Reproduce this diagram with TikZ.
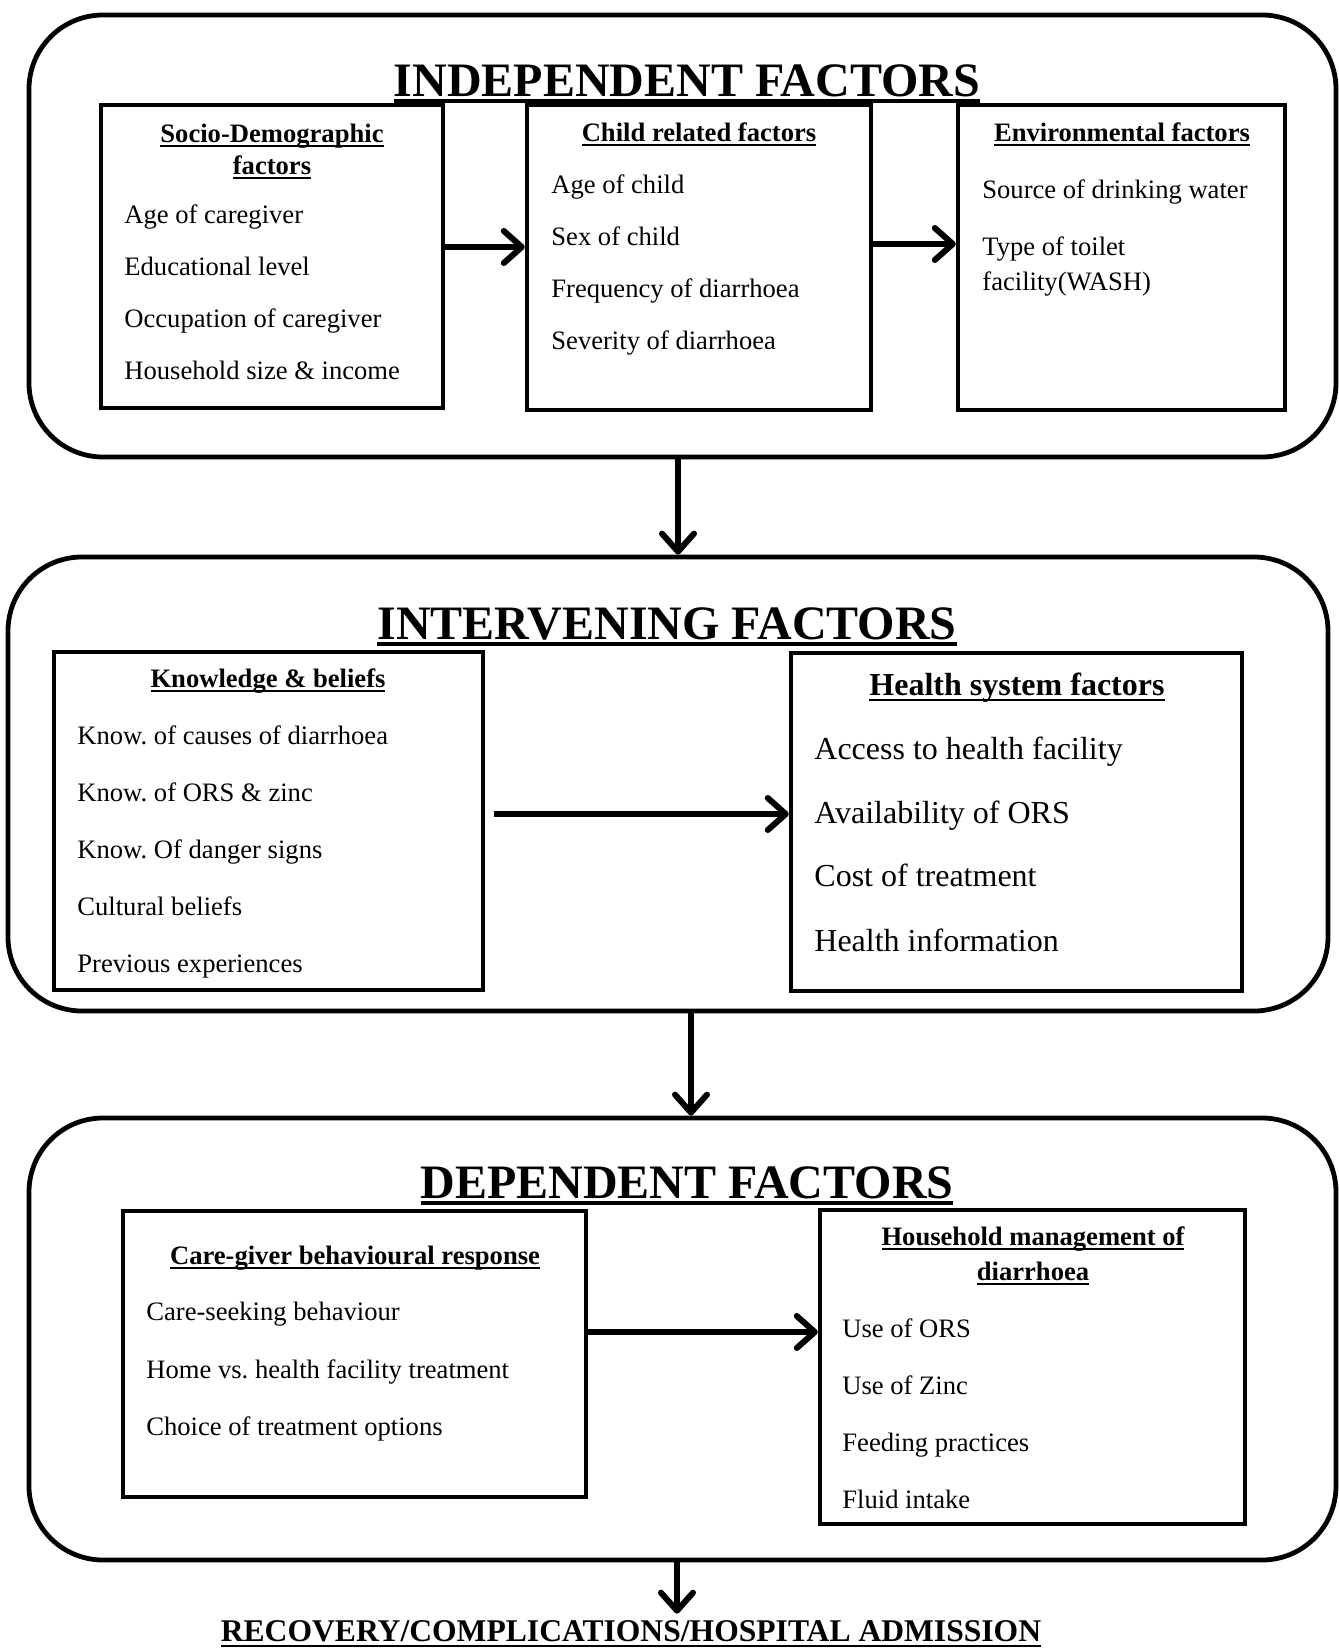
\documentclass[tikz,border=0pt]{standalone}
\usepackage{fontspec}
\setmainfont{Liberation Serif}
\usetikzlibrary{
    arrows.meta,
    fit,
    positioning
}
\frenchspacing
\newcommand{\ulin}[2][0.2em]{\setbox0=\hbox{#2}\rlap{\rule[-#1]{\wd0}{0.075em}}\box0}
\tikzset{
    panel/.style={draw, line width=2.4pt, rounded corners=37pt, inner sep=0pt},
    factorbox/.style={draw, line width=2.2pt, inner sep=0pt},
    flowarrow/.style={line width=3pt, -{Straight Barb[length=9pt, width=16pt, round]}},
    listitem/.style={anchor=base west, inner sep=0pt, font=\fontsize{13.3}{16}\selectfont},
    biglistitem/.style={anchor=base west, inner sep=0pt, font=\fontsize{16}{19}\selectfont},
    boxtitle/.style={anchor=base, inner sep=0pt, font=\fontsize{13.3}{16}\selectfont\bfseries},
    bigboxtitle/.style={anchor=base, inner sep=0pt, font=\fontsize{16}{19}\selectfont\bfseries},
    heading/.style={anchor=base, inner sep=0pt, font=\fontsize{24}{28}\selectfont\bfseries}
}

\begin{document}
\begin{tikzpicture}[x=0.5pt, y=-0.5pt]
                        \useasboundingbox (0, 0) rectangle (1339, 1650);

                        \node[panel, fit={(29, 15) (1336, 457)}] (indep) {};
                        \node[heading] (indeptitle) at (687, 96) {\ulin[0.14em]{INDEPENDENT FACTORS}};

                        \node[factorbox, fit={(101, 105) (443, 408)}] (socio) {};
                        \node[boxtitle] (sociotitle) at (272, 142) {\ulin{Socio-Demographic}};
                        \node[boxtitle] (sociotitleb) at (272, 174) {\ulin{factors}};
                        \node[listitem] (socioa) at (124, 223) {Age of caregiver};
                        \node[listitem] (sociob) at (124, 275) {Educational level};
                        \node[listitem] (socioc) at (124, 327) {Occupation of caregiver};
                        \node[listitem] (sociod) at (124, 379) {Household size \& income};

                        \node[factorbox, fit={(527, 105) (871, 410)}] (child) {};
                        \node[boxtitle] (childtitle) at (699, 141) {\ulin{Child related factors}};
                        \node[listitem] (childa) at (551, 193) {Age of child};
                        \node[listitem] (childb) at (551, 245) {Sex of child};
                        \node[listitem] (childc) at (551, 297) {Frequency of diarrhoea};
                        \node[listitem] (childd) at (551, 349) {Severity of diarrhoea};

                        \node[factorbox, fit={(958, 105) (1285, 410)}] (envir) {};
                        \node[boxtitle] (envirtitle) at (1122, 141) {\ulin{Environmental factors}};
                        \node[listitem] (envira) at (982, 198) {Source of drinking water};
                        \node[listitem] (envirb) at (982, 255) {Type of toilet};
                        \node[listitem] (envirc) at (982, 290) {facility(WASH)};

                        \coordinate (rowa) at (0, 247);
                        \coordinate (rowb) at (0, 244);
                        \draw[flowarrow] (socio.east |- rowa) -- (child.west |- rowa);
                        \draw[flowarrow] (child.east |- rowb) -- (envir.west |- rowb);

                        \node[panel, fit={(8, 557) (1328, 1011)}] (interv) {};
                        \node[heading] (intervtitle) at (667, 639) {\ulin[0.14em]{INTERVENING FACTORS}};

                        \node[factorbox, fit={(54, 652) (483, 990)}] (know) {};
                        \node[boxtitle] (knowtitle) at (268, 687) {\ulin{Knowledge \& beliefs}};
                        \node[listitem] (knowa) at (77, 744) {Know. of causes of diarrhoea};
                        \node[listitem] (knowb) at (77, 801) {Know. of ORS \& zinc};
                        \node[listitem] (knowc) at (77, 858) {Know. Of danger signs};
                        \node[listitem] (knowd) at (77, 915) {Cultural beliefs};
                        \node[listitem] (knowe) at (77, 972) {Previous experiences};

                        \node[factorbox, fit={(791, 653) (1242, 991)}] (hsys) {};
                        \node[bigboxtitle] (hsystitle) at (1017, 695) {\ulin{Health system factors}};
                        \node[biglistitem] (hsysa) at (814, 759) {Access to health facility};
                        \node[biglistitem] (hsysb) at (814, 823) {Availability of ORS};
                        \node[biglistitem] (hsysc) at (814, 886) {Cost of treatment};
                        \node[biglistitem] (hsysd) at (814, 951) {Health information};

                        \coordinate (rowc) at (0, 814);
                        \draw[flowarrow, shorten <=4.5pt] (know.east |- rowc) -- (hsys.west |- rowc);

                        \node[panel, fit={(29, 1118) (1336, 1560)}] (depend) {};
                        \node[heading] (dependtitle) at (687, 1198) {\ulin[0.14em]{DEPENDENT FACTORS}};

                        \node[factorbox, fit={(123, 1211) (586, 1497)}] (care) {};
                        \node[boxtitle] (caretitle) at (355, 1264) {\ulin{Care-giver behavioural response}};
                        \node[listitem] (carea) at (146, 1320) {Care-seeking behaviour};
                        \node[listitem] (careb) at (146, 1378) {Home vs. health facility treatment};
                        \node[listitem] (carec) at (146, 1435) {Choice of treatment options};

                        \node[factorbox, fit={(820, 1210) (1245, 1524)}] (house) {};
                        \node[boxtitle] (housetitle) at (1033, 1245) {\ulin{Household management of}};
                        \node[boxtitle] (housetitleb) at (1033, 1280) {\ulin{diarrhoea}};
                        \node[listitem] (housea) at (842, 1337) {Use of ORS};
                        \node[listitem] (houseb) at (842, 1394) {Use of Zinc};
                        \node[listitem] (housec) at (842, 1451) {Feeding practices};
                        \node[listitem] (housed) at (842, 1508) {Fluid intake};

                        \coordinate (rowd) at (0, 1332);
                        \draw[flowarrow] (care.east |- rowd) -- (house.west |- rowd);

                        \node[anchor=base, inner sep=0pt, font=\fontsize{15.8}{19}\selectfont\bfseries] (outcome) at (631, 1641)
                            {\ulin{RECOVERY/COMPLICATIONS/HOSPITAL ADMISSION}};

                        \coordinate (downa) at (678, 0);
                        \coordinate (downb) at (691, 0);
                        \coordinate (downc) at (677, 0);
                        \draw[flowarrow] (indep.south -| downa) -- (interv.north -| downa);
                        \draw[flowarrow] (interv.south -| downb) -- (depend.north -| downb);
                        \draw[flowarrow, shorten >=3pt] (depend.south -| downc) -- (outcome.north -| downc);
                    \end{tikzpicture}
\end{document}
